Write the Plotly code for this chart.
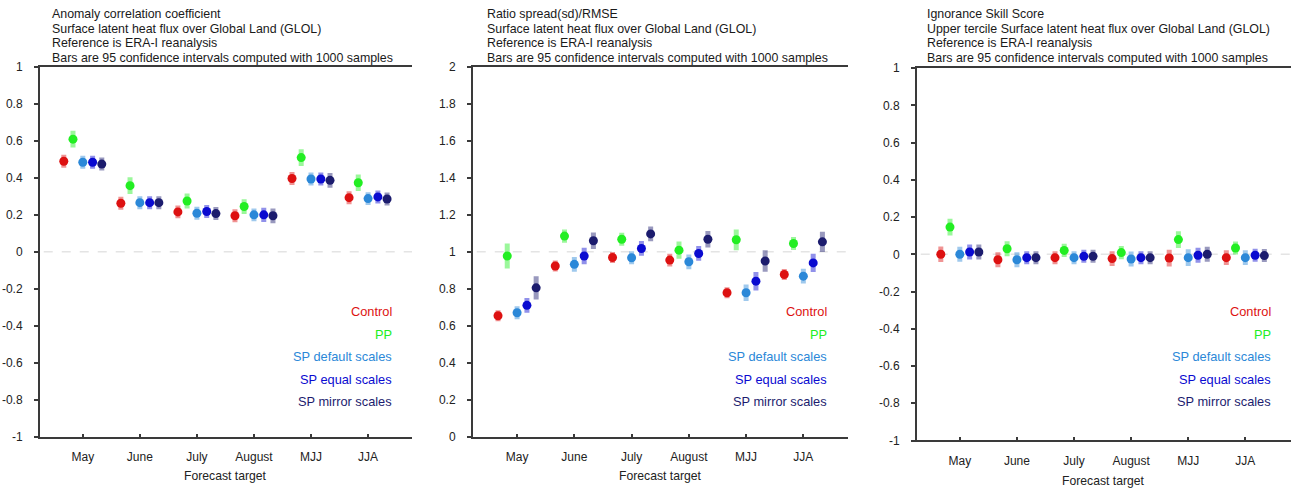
import plotly.graph_objects as go

# ---------------- data ----------------
months = ["May", "June", "July", "August", "MJJ", "JJA"]
series_names = ["Control", "PP", "SP default scales", "SP equal scales", "SP mirror scales"]

# Panel 1: Anomaly correlation coefficient
acc_control = [0.490, 0.263, 0.216, 0.195, 0.397, 0.293]
acc_pp      = [0.610, 0.358, 0.275, 0.245, 0.510, 0.374]
acc_default = [0.485, 0.266, 0.209, 0.200, 0.394, 0.288]
acc_equal   = [0.485, 0.266, 0.218, 0.200, 0.394, 0.297]
acc_mirror  = [0.475, 0.266, 0.207, 0.195, 0.387, 0.286]
acc_control_err = [0.035, 0.035, 0.035, 0.035, 0.035, 0.035]
acc_pp_err      = [0.045, 0.045, 0.040, 0.040, 0.045, 0.045]
acc_default_err = [0.035, 0.035, 0.035, 0.035, 0.035, 0.035]
acc_equal_err   = [0.035, 0.035, 0.035, 0.038, 0.035, 0.035]
acc_mirror_err  = [0.035, 0.035, 0.035, 0.040, 0.040, 0.035]

# Panel 2: Ratio spread(sd)/RMSE
ratio_control = [0.654, 0.923, 0.969, 0.955, 0.778, 0.877]
ratio_pp      = [0.977, 1.085, 1.068, 1.009, 1.065, 1.045]
ratio_default = [0.670, 0.932, 0.968, 0.946, 0.778, 0.868]
ratio_equal   = [0.710, 0.977, 1.018, 0.991, 0.841, 0.940]
ratio_mirror  = [0.805, 1.060, 1.097, 1.068, 0.950, 1.054]
ratio_control_err = [0.030, 0.030, 0.030, 0.035, 0.030, 0.030]
ratio_pp_err      = [0.068, 0.036, 0.035, 0.047, 0.056, 0.035]
ratio_default_err = [0.035, 0.040, 0.035, 0.040, 0.045, 0.040]
ratio_equal_err   = [0.040, 0.045, 0.040, 0.040, 0.050, 0.050]
ratio_mirror_err  = [0.063, 0.045, 0.040, 0.045, 0.058, 0.055]

# Panel 3: Ignorance Skill Score
iss_control = [0.000, -0.029, -0.018, -0.023, -0.020, -0.018]
iss_pp      = [0.146, 0.030, 0.021, 0.009, 0.079, 0.034]
iss_default = [0.000, -0.029, -0.018, -0.025, -0.018, -0.018]
iss_equal   = [0.0125, -0.018, -0.011, -0.018, -0.005, -0.005]
iss_mirror  = [0.0125, -0.018, -0.011, -0.018, 0.000, -0.007]
iss_control_err = [0.042, 0.040, 0.035, 0.040, 0.045, 0.040]
iss_pp_err      = [0.045, 0.040, 0.035, 0.035, 0.045, 0.035]
iss_default_err = [0.040, 0.040, 0.035, 0.040, 0.045, 0.040]
iss_equal_err   = [0.040, 0.035, 0.035, 0.035, 0.040, 0.035]
iss_mirror_err  = [0.040, 0.035, 0.035, 0.035, 0.040, 0.035]

ytick_vals_pm1 = [-1, -0.8, -0.6, -0.4, -0.2, 0, 0.2, 0.4, 0.6, 0.8, 1]
ytick_text_pm1 = ["-1", "-0.8", "-0.6", "-0.4", "-0.2", "0", "0.2", "0.4", "0.6", "0.8", "1"]
ytick_vals_02 = [0, 0.2, 0.4, 0.6, 0.8, 1, 1.2, 1.4, 1.6, 1.8, 2]
ytick_text_02 = ["0", "0.2", "0.4", "0.6", "0.8", "1", "1.2", "1.4", "1.6", "1.8", "2"]

titles = [
    ["Anomaly correlation coefficient",
     "Surface latent heat flux over Global Land (GLOL)",
     "Reference is ERA-I reanalysis",
     "Bars are 95 confidence intervals computed with 1000 samples"],
    ["Ratio spread(sd)/RMSE",
     "Surface latent heat flux over Global Land (GLOL)",
     "Reference is ERA-I reanalysis",
     "Bars are 95 confidence intervals computed with 1000 samples"],
    ["Ignorance Skill Score",
     "Upper tercile Surface latent heat flux over Global Land (GLOL)",
     "Reference is ERA-I reanalysis",
     "Bars are 95 confidence intervals computed with 1000 samples"],
]
xlabel = "Forecast target"

# ---------------- styling ----------------
colors = ["#dd1111", "#22ee22", "#2b88d8", "#0a0ad0", "#1c1c6e"]
err_colors = ["rgba(221,17,17,0.45)", "rgba(34,238,34,0.45)", "rgba(43,136,216,0.45)",
              "rgba(10,10,208,0.45)", "rgba(28,28,110,0.45)"]
offsets = [-0.333, -0.172, 0.0, 0.172, 0.333]
FONT = "Liberation Sans, Arial, Helvetica, sans-serif"
W, H = 1292, 490

def fx(p):
    return p / W

def fy(p):
    # vertical pixel (as measured in the target picture) -> paper fraction
    return 1 - ((p - 6.8) / 0.973) / H

panels = [
    dict(left=40, right=412, top=67, bottom=437, xr=[0.25, 6.77], yr=[-1, 1],
         tv=ytick_vals_pm1, tt=ytick_text_pm1, ref=0, tx=50, lx=394, xl_x=225.5, xl_y=477,
         data=[acc_control, acc_pp, acc_default, acc_equal, acc_mirror],
         err=[acc_control_err, acc_pp_err, acc_default_err, acc_equal_err, acc_mirror_err]),
    dict(left=473, right=848, top=67, bottom=437, xr=[0.23, 6.78], yr=[0, 2],
         tv=ytick_vals_02, tt=ytick_text_02, ref=1, tx=485, lx=829, xl_x=660.5, xl_y=477,
         data=[ratio_control, ratio_pp, ratio_default, ratio_equal, ratio_mirror],
         err=[ratio_control_err, ratio_pp_err, ratio_default_err, ratio_equal_err, ratio_mirror_err]),
    dict(left=917, right=1291, top=68, bottom=441, xr=[0.25, 6.8], yr=[-1, 1],
         tv=ytick_vals_pm1, tt=ytick_text_pm1, ref=0, tx=925, lx=1273, xl_x=1103.5, xl_y=482,
         data=[iss_control, iss_pp, iss_default, iss_equal, iss_mirror],
         err=[iss_control_err, iss_pp_err, iss_default_err, iss_equal_err, iss_mirror_err]),
]

fig = go.Figure()
annotations = []
shapes = []
layout_axes = {}

for pi, p in enumerate(panels):
    sfx = "" if pi == 0 else str(pi + 1)
    xa, ya = "x" + sfx, "y" + sfx
    for si in range(5):
        xs = [i + 1 + offsets[si] for i in range(len(months))]
        fig.add_trace(go.Scatter(
            x=xs, y=p["data"][si], mode="markers", xaxis=xa, yaxis=ya,
            marker=dict(color=colors[si], size=9, line=dict(width=0)),
            error_y=dict(type="data", array=p["err"][si], thickness=5, width=0,
                         color=err_colors[si]),
            showlegend=False, hoverinfo="skip"))
    layout_axes["xaxis" + sfx] = dict(
        domain=[fx(p["left"]), fx(p["right"])], range=p["xr"], anchor=ya,
        tickvals=[1, 2, 3, 4, 5, 6], ticktext=months, showline=True, linewidth=2,
        linecolor="#3a3a3a", mirror=True, ticks="inside", ticklen=3, tickwidth=1.5,
        tickcolor="#3a3a3a", showgrid=False, zeroline=False,
        tickfont=dict(family=FONT, size=12, color="#222"), ticklabelstandoff=8)
    layout_axes["yaxis" + sfx] = dict(
        domain=[fy(p["bottom"]), fy(p["top"])], range=p["yr"], anchor=xa,
        tickvals=p["tv"], ticktext=p["tt"], showline=True, linewidth=2,
        linecolor="#3a3a3a", ticks="outside", ticklen=4, tickwidth=1.5,
        tickcolor="#3a3a3a", showgrid=False, zeroline=False,
        tickfont=dict(family=FONT, size=12, color="#222"), ticklabelstandoff=9)
    shapes.append(dict(type="line", xref=xa + " domain", yref=ya, x0=0.01, x1=1,
                       y0=p["ref"], y1=p["ref"], layer="below",
                       line=dict(color="#e4e4e4", width=1.5, dash="dash")))
    for li, t in enumerate(titles[pi]):
        annotations.append(dict(text=t, xref="paper", yref="paper", x=fx(p["tx"]),
                                y=fy([14, 28.5, 43, 57.5][li]), xanchor="left", yanchor="middle",
                                showarrow=False, font=dict(family=FONT, size=12.4, color="#1a1a1a")))
    for si, name in enumerate(series_names):
        annotations.append(dict(text=name, xref="paper", yref="paper", x=fx(p["lx"]),
                                y=fy([312, 334.5, 357, 379.5, 402][si]), xanchor="right",
                                yanchor="middle", showarrow=False,
                                font=dict(family=FONT, size=12.8, color=colors[si])))
    annotations.append(dict(text=xlabel, xref="paper", yref="paper",
                            x=fx(p["xl_x"]), y=fy(p["xl_y"]),
                            xanchor="center", yanchor="middle", showarrow=False,
                            font=dict(family=FONT, size=12.2, color="#222")))

fig.update_layout(
    width=W, height=H, margin=dict(l=0, r=0, t=0, b=0),
    paper_bgcolor="white", plot_bgcolor="white", showlegend=False,
    annotations=annotations, shapes=shapes, **layout_axes)

fig.write_html("out.html", config={"displayModeBar": False},
               post_script="document.body.style.margin='0';document.body.style.overflow='hidden';")
